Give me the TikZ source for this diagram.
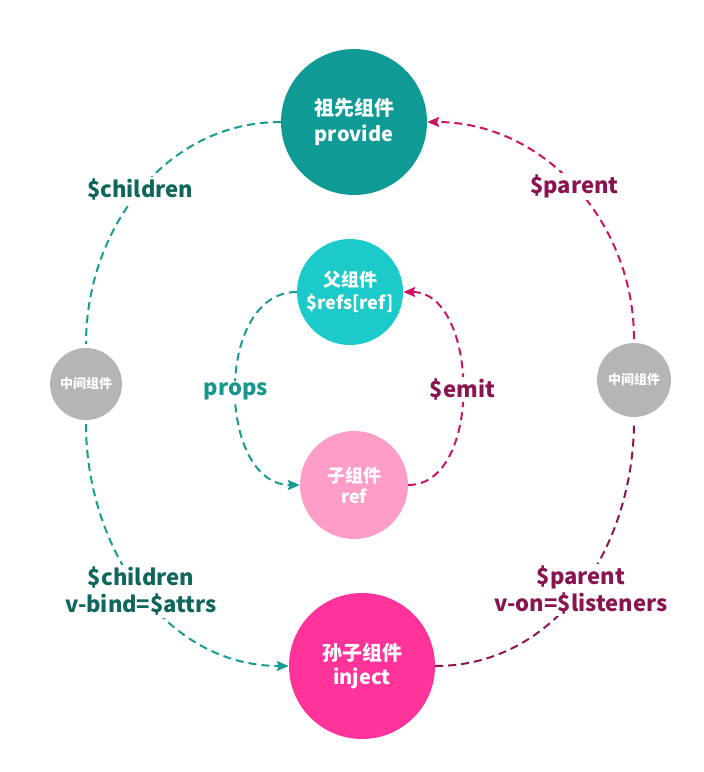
\documentclass[tikz,border=0pt]{standalone}
\usepackage{fontspec}
\setmainfont{Noto Sans CJK SC}
\usetikzlibrary{arrows.meta}
\definecolor{topteal}{HTML}{0F9A96}
\definecolor{parcyan}{HTML}{1CCBC9}
\definecolor{kidpink}{HTML}{FF9DC9}
\definecolor{grandpink}{HTML}{FF3399}
\definecolor{midgray}{HTML}{B5B5B5}
\definecolor{tealline}{HTML}{179C92}
\definecolor{teallabel}{HTML}{0E665D}
\definecolor{propslabel}{HTML}{16968C}
\definecolor{magline}{HTML}{CC1464}
\definecolor{magdark}{HTML}{8E1450}
\definecolor{maglabel}{HTML}{8A1450}
\begin{document}
\begin{tikzpicture}[x=1pt,y=1pt,
  ball/.style={circle,inner sep=0pt,text=white,align=center},
  conn/.style={line width=2pt,dash pattern=on 8pt off 5pt},
  tip/.style={-{Stealth[length=12pt,width=10pt,inset=2pt]}},
  lab/.style={fill=white,inner sep=2pt,align=center,font=\fontsize{22}{27}\selectfont\bfseries}
]
\useasboundingbox (0,0) rectangle (704,-772);
% circles
\node[ball,fill=topteal,minimum size=146pt,font=\fontsize{20}{26}\selectfont\bfseries] (anc) at (354,-122) {祖先组件\\provide};
\node[ball,fill=parcyan,minimum size=106pt,font=\fontsize{18}{23}\selectfont\bfseries] (par) at (350,-292) {父组件\\\$refs[ref]};
\node[ball,fill=kidpink,minimum size=108pt,font=\fontsize{18}{21}\selectfont\bfseries] (kid) at (354,-485) {子组件\\ref};
\node[ball,fill=grandpink,minimum size=146pt,font=\fontsize{20}{24}\selectfont\bfseries] (gc) at (362,-666) {孙子组件\\inject};
\node[ball,fill=midgray,minimum size=72pt,outer sep=4pt,font=\fontsize{13}{15}\selectfont\bfseries] (gl) at (86,-384) {中间组件};
\node[ball,fill=midgray,minimum size=74pt,outer sep=4pt,font=\fontsize{13}{15}\selectfont\bfseries] (gr) at (634,-380) {中间组件};
% outer connectors
\draw[conn,tealline] (anc.west) to[out=180,in=90]
  node[lab,text=teallabel] {\$children} (gl.north);
\draw[conn,tealline,tip] (gl.south) to[out=270,in=180]
  node[lab,text=teallabel] {\$children\\v-bind=\$attrs} (gc.west);
\draw[conn,magline,tip] (gr.north) to[out=90,in=0]
  node[lab,text=maglabel] {\$parent} (anc.east);
\draw[conn,magdark] (gc.east) to[out=0,in=270]
  node[lab,text=maglabel] {\$parent\\v-on=\$listeners} (gr.south);
% inner connectors
\draw[conn,tealline,tip] (par.west) to[out=180,in=180,looseness=1.1]
  node[lab,text=propslabel,yshift=-3pt] {props} (kid.west);
\draw[conn,magline,tip] (kid.east) to[out=0,in=0]
  node[lab,text=maglabel,yshift=-1pt] {\$emit} (par.east);
\end{tikzpicture}
\end{document}
